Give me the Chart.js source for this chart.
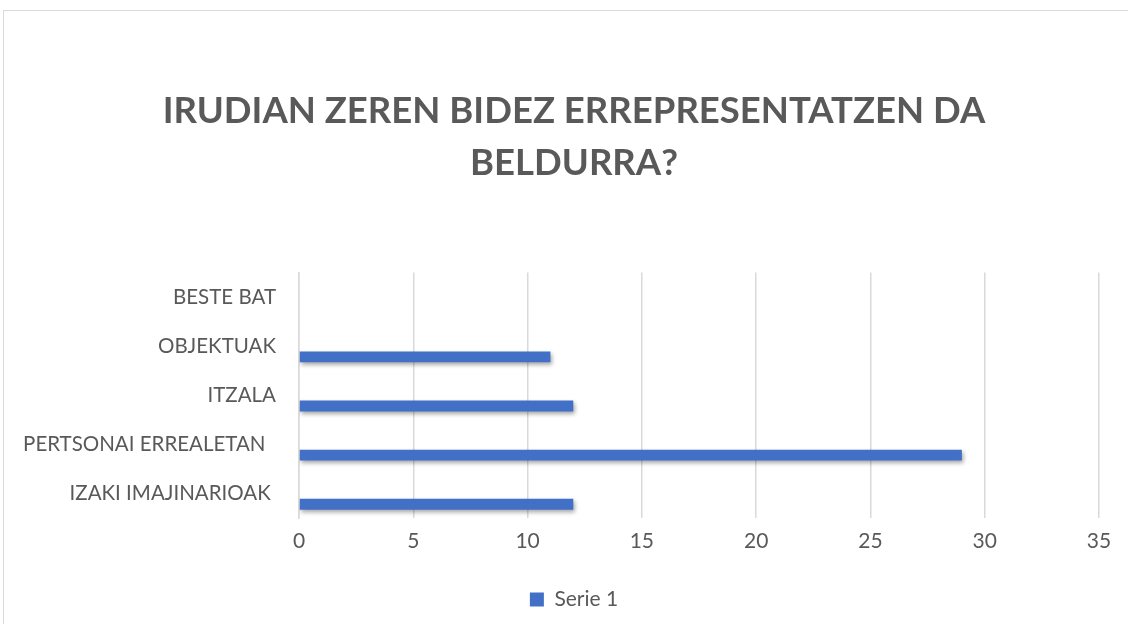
<!DOCTYPE html>
<html><head><meta charset="utf-8">
<script src="https://cdn.jsdelivr.net/npm/chart.js@4/dist/chart.umd.min.js"></script>
<style>
html,body{margin:0;padding:0;background:#fff;overflow:hidden;width:1128px;height:624px}
#wrap{position:absolute;left:3px;top:10px;width:1140px;height:620px;border:1px solid #d9d9d9;}
canvas{display:block}
</style></head>
<body><div id="wrap"><canvas id="c" width="1140" height="620" style="width:1140px;height:620px"></canvas></div>
<script>
const categories = ["BESTE BAT", "OBJEKTUAK", "ITZALA", "PERTSONAI ERREALETAN  ", "IZAKI IMAJINARIOAK "];
const serie1 = [0, 11, 12, 29, 12];
const seriesNames = ["Serie 3", "Serie 2", "Serie 1"];
const xTicks = [0, 5, 10, 15, 20, 25, 30, 35];
const titleLines = ["IRUDIAN ZEREN BIDEZ ERREPRESENTATZEN DA", "BELDURRA?"];

const txt = '#595959';
const shadowPlugin = {
  id: 'shadow',
  beforeDatasetsDraw(chart){ const c = chart.ctx; c.save(); c.shadowColor='rgba(0,0,0,0.35)'; c.shadowBlur=4; c.shadowOffsetX=1.5; c.shadowOffsetY=2.5; },
  afterDatasetsDraw(chart){ chart.ctx.restore(); }
};

new Chart(document.getElementById('c'), {
  type: 'bar',
  data: {
    labels: categories,
    datasets: [
      { label: seriesNames[0], data: [], backgroundColor: '#ED7D31' },
      { label: seriesNames[1], data: [], backgroundColor: '#A5A5A5' },
      { label: seriesNames[2], data: serie1, backgroundColor: '#4170C6', borderWidth: 0 }
    ]
  },
  plugins: [shadowPlugin],
  options: {
    responsive: false,
    animation: false,
    indexAxis: 'y',
    categoryPercentage: 0.66,
    barPercentage: 1,
    layout: { padding: { left: 45, right: 45, top: 0, bottom: 11 } },
    plugins: {
      title: {
        display: true, text: titleLines, color: txt,
        font: { family: 'Lato', size: 36.5, weight: 'bold', lineHeight: 1.43 },
        padding: { top: 74, bottom: 83 }
      },
      legend: {
        position: 'bottom',
        labels: {
          color: txt, font: { family: 'Lato', size: 21 }, boxWidth: 14, boxHeight: 14, padding: 10,
          filter: (item) => item.text === 'Serie 1'
        }
      },
      tooltip: { enabled: false }
    },
    scales: {
      x: {
        min: 0, max: 35,
        afterBuildTicks(s){ s.ticks = xTicks.map(v => ({ value: v })); },
        afterFit(s){ s.height = 61; },
        grid: { color: '#d9d9d9', lineWidth: 1.5, drawTicks: false },
        border: { display: false },
        ticks: { color: txt, font: { family: 'Lato', size: 21 }, padding: 11 }
      },
      y: {
        afterFit(s){ s.width = 250; s._computeLabelArea = () => undefined; },
        grid: { display: false, drawTicks: false },
        border: { display: true, color: '#d9d9d9', width: 1.5 },
        ticks: { color: txt, font: { family: 'Lato', size: 20.5 }, padding: 23 }
      }
    }
  }
});
</script>
</body></html>
